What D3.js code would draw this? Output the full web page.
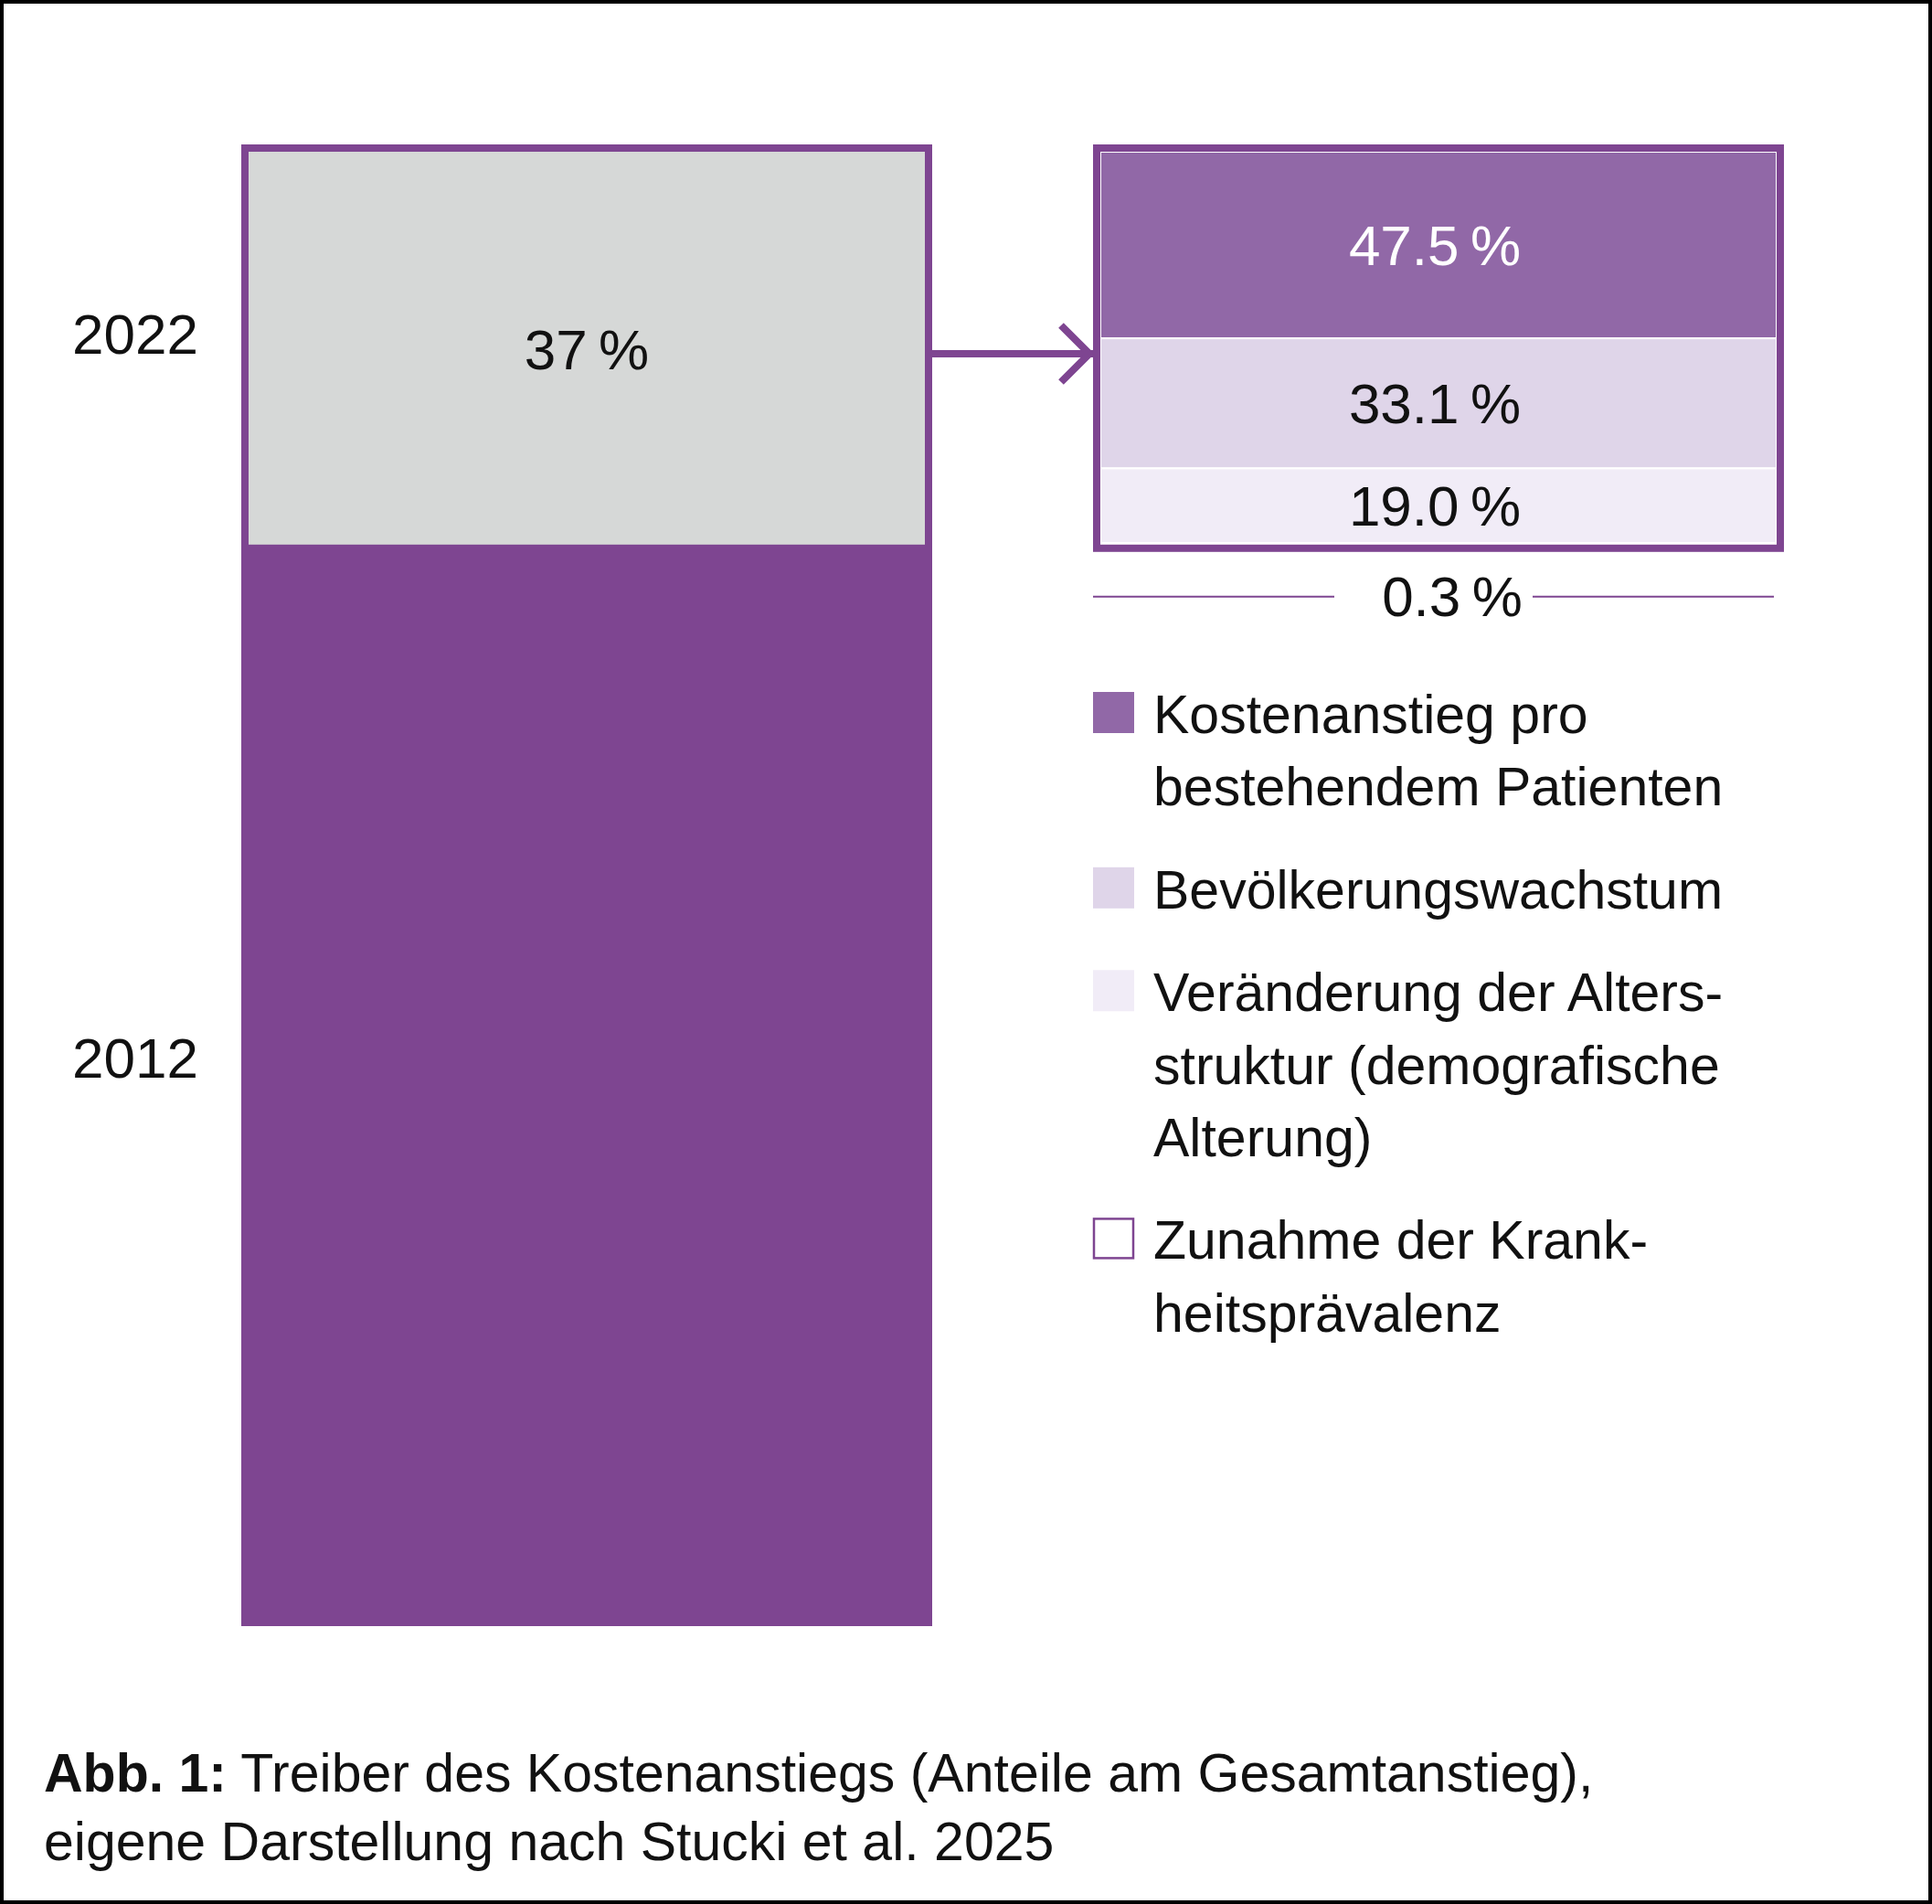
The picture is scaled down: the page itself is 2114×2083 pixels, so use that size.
<!DOCTYPE html>
<html>
<head>
<meta charset="utf-8">
<script src="https://cdn.jsdelivr.net/npm/d3@7"></script>
<style>
  body { margin: 0; background: #fff; }
  text { font-family: "Liberation Sans", Arial, sans-serif; }
</style>
</head>
<body>
<div id="chart"></div>
<script>
// data
const years = ["2012", "2022"];
const costIndex = [100, 137];          // 2012 = 100, 2022 = 137 (+37 %)
const increaseLabel = "37\u2009%";

const drivers = [
  "Kostenanstieg pro bestehendem Patienten",
  "Bevölkerungswachstum",
  "Veränderung der Altersstruktur (demografische Alterung)",
  "Zunahme der Krankheitsprävalenz"
];
const driverLines = [
  ["Kostenanstieg pro", "bestehendem Patienten"],
  ["Bevölkerungswachstum"],
  ["Veränderung der Alters-", "struktur (demografische", "Alterung)"],
  ["Zunahme der Krank-", "heitsprävalenz"]
];
const driverShares = [47.5, 33.1, 19.0, 0.3];
const driverLabels = ["47.5\u2009%", "33.1\u2009%", "19.0\u2009%", "0.3\u2009%"];
const driverColors = ["#9168a7", "#dfd5e9", "#f1ecf7", "#ffffff"];

const captionBold = "Abb. 1:";
const captionLines = [
  " Treiber des Kostenanstiegs (Anteile am Gesamtanstieg),",
  "eigene Darstellung nach Stucki et al. 2025"
];

const purple = "#7e4591";
const grey = "#d6d8d7";

const W = 2114, H = 2083;
const svg = d3.select("#chart").append("svg")
  .attr("width", W).attr("height", H);

// frame
svg.append("rect")
  .attr("x", 2).attr("y", 2).attr("width", W - 4).attr("height", H - 4)
  .attr("fill", "#fff").attr("stroke", "#000").attr("stroke-width", 4);

// ---- left bar: 2012 base + 2022 increase
const border = 8;
const xL = d3.scaleBand().domain(["bar"]).range([264, 1020]).padding(0);
const yL = d3.scaleLinear().domain([0, d3.max(costIndex)]).range([1779, 158]);

svg.append("rect")
  .attr("x", xL("bar")).attr("width", xL.bandwidth())
  .attr("y", yL(costIndex[1])).attr("height", yL(0) - yL(costIndex[1]))
  .attr("fill", purple);

svg.append("rect")
  .attr("x", xL("bar") + border).attr("width", xL.bandwidth() - 2 * border)
  .attr("y", yL(costIndex[1]) + border)
  .attr("height", yL(costIndex[0]) - yL(costIndex[1]) - border)
  .attr("fill", grey);

const greyMid = (yL(costIndex[1]) + border + yL(costIndex[0])) / 2;
const xMidL = xL("bar") + xL.bandwidth() / 2;

svg.append("text")
  .attr("x", xMidL).attr("y", greyMid + 23)
  .attr("text-anchor", "middle").attr("font-size", 62).attr("fill", "#111")
  .text(increaseLabel);

// year labels
const yearY = [yL(costIndex[0] / 2) + 10 - 16, greyMid + 9];
svg.selectAll("text.year").data(years).join("text")
  .attr("class", "year")
  .attr("x", 217).attr("y", (d, i) => i === 0 ? 1179 : 387)
  .attr("text-anchor", "end").attr("font-size", 62).attr("fill", "#111")
  .text(d => d);

// ---- right box: decomposition of the increase
const boxX0 = 1196, boxX1 = 1952;
const yR = d3.scaleLinear().domain([0, 100])
  .range([yL(costIndex[1]) + border, yL(costIndex[0])]);

let cum = 0;
const stack = driverShares.map((v, i) => {
  const s = { i, v, y0: cum, y1: cum + v };
  cum += v;
  return s;
});

const gR = svg.append("g");
gR.selectAll("rect.seg").data(stack.slice(0, 3)).join("rect")
  .attr("class", "seg")
  .attr("x", boxX0 + border).attr("width", boxX1 - boxX0 - 2 * border)
  .attr("y", d => yR(d.y0)).attr("height", d => yR(d.y1) - yR(d.y0))
  .attr("fill", d => driverColors[d.i])
  .attr("stroke", "#fff").attr("stroke-width", 2);

gR.append("rect")
  .attr("x", boxX0 + border / 2).attr("y", yR(0) - border / 2)
  .attr("width", boxX1 - boxX0 - border)
  .attr("height", yR(100) - yR(0) + border)
  .attr("fill", "none").attr("stroke", purple).attr("stroke-width", border);

const xMidR = (boxX0 + boxX1) / 2 - 4;
gR.selectAll("text.seg").data(stack.slice(0, 3)).join("text")
  .attr("class", "seg")
  .attr("x", xMidR)
  .attr("y", d => (yR(d.y0) + yR(d.y1)) / 2 + 22)
  .attr("text-anchor", "middle").attr("font-size", 62)
  .attr("fill", d => d.i === 0 ? "#fff" : "#111")
  .text(d => driverLabels[d.i]);

// 0.3 % label below the box with rules
const smallY = yR(100) + border + 70;
gR.append("text")
  .attr("x", 1589).attr("y", smallY)
  .attr("text-anchor", "middle").attr("font-size", 62).attr("fill", "#111")
  .text(driverLabels[3]);
gR.selectAll("line.rule").data([[boxX0, 1460], [1677, 1941]]).join("line")
  .attr("class", "rule")
  .attr("x1", d => d[0]).attr("x2", d => d[1])
  .attr("y1", smallY - 21).attr("y2", smallY - 21)
  .attr("stroke", purple).attr("stroke-width", 2);

// arrow from the increase to the box
const arrowY = 387;
svg.append("line")
  .attr("x1", xL("bar") + xL.bandwidth()).attr("x2", boxX0)
  .attr("y1", arrowY).attr("y2", arrowY)
  .attr("stroke", purple).attr("stroke-width", 8);
svg.append("path")
  .attr("d", `M${boxX0 - 35},${arrowY - 31} L${boxX0 - 4},${arrowY} L${boxX0 - 35},${arrowY + 31}`)
  .attr("fill", "none").attr("stroke", purple).attr("stroke-width", 8)
  .attr("stroke-linejoin", "miter");

// ---- legend
const legX = boxX0, legTextX = 1262, sw = 45;
const lineH = 79.3, gap = 112.5;
let base = 802;
const legend = svg.append("g");
driverLines.forEach((lines, i) => {
  const swatch = legend.append("rect")
    .attr("x", legX).attr("y", base - sw).attr("width", sw).attr("height", sw)
    .attr("fill", driverColors[i]);
  if (i === 3) {
    swatch.attr("x", legX + 1).attr("y", base - sw + 1)
      .attr("width", sw - 2).attr("height", sw - 2)
      .attr("stroke", purple).attr("stroke-width", 2.5);
  }
  const t = legend.append("text")
    .attr("x", legTextX).attr("y", base)
    .attr("font-size", 59).attr("fill", "#111");
  lines.forEach((ln, j) => {
    t.append("tspan").attr("x", legTextX).attr("y", base + j * lineH).text(ln);
  });
  base += (lines.length - 1) * lineH + gap;
});

// ---- caption
const cap = svg.append("text")
  .attr("x", 48).attr("y", 1960)
  .attr("font-size", 59).attr("fill", "#111");
cap.append("tspan").attr("font-weight", "bold").text(captionBold);
cap.append("tspan").text(captionLines[0]);
svg.append("text")
  .attr("x", 48).attr("y", 2035)
  .attr("font-size", 59).attr("fill", "#111")
  .text(captionLines[1]);
</script>
</body>
</html>
